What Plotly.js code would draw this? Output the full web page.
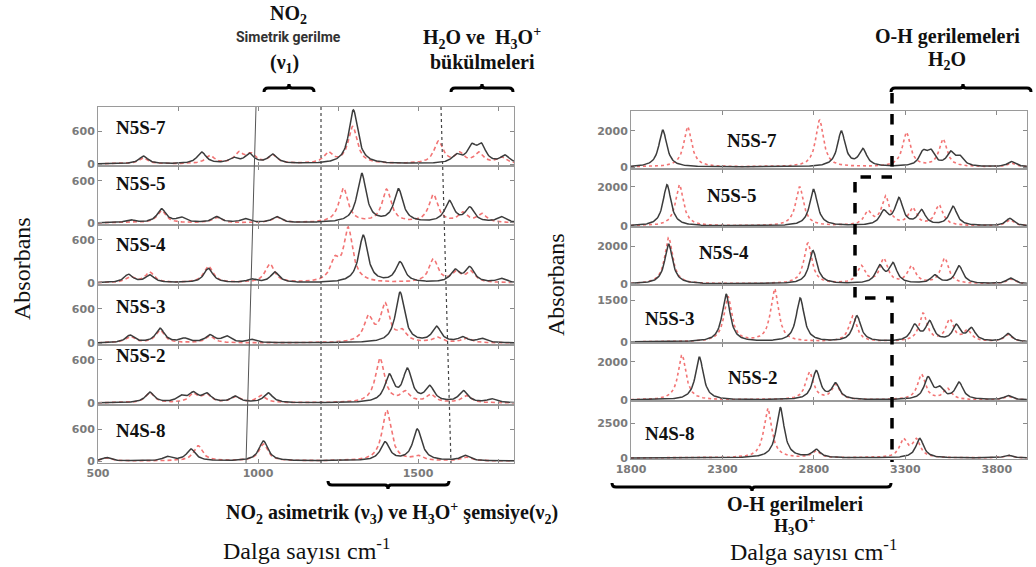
<!DOCTYPE html>
<html><head><meta charset="utf-8">
<script src="https://cdn.plot.ly/plotly-3.0.1.min.js"></script>
<style>html,body{margin:0;padding:0;background:#fff}</style>
</head><body><div id="chart" style="width:1036px;height:567px"></div>
<script>
// ---------- DATA (peak positions cm-1, absorbance) ----------
const sampleNames = ['N5S-7','N5S-5','N5S-4','N5S-3','N5S-2','N4S-8'];

// Left panel (500–1800 cm-1), black solid and red dashed spectra
const L_N5S7_black = [[642,140],[824,210],[923,95],[973,175],[1046,165],[1298,980],[1620,140],[1668,280],[1698,300],[1772,140]];
const L_N5S7_red   = [[642,110],[850,145],[940,190],[978,160],[1046,150],[1220,190],[1296,670],[1564,400],[1630,180],[1690,190],[1760,115]];
const L_N5S5_black = [[600,40],[699,195],[760,70],[871,85],[960,55],[1058,85],[1324,700],[1439,470],[1598,300],[1662,205],[1760,80]];
const L_N5S5_red   = [[699,175],[871,75],[1058,80],[1267,490],[1402,470],[1548,395],[1640,135],[1700,120]];
const L_N5S4_black = [[595,115],[662,105],[845,200],[980,45],[1053,145],[1329,660],[1444,280],[1616,165],[1662,205],[1760,55]];
const L_N5S4_red   = [[600,80],[662,145],[845,230],[1037,260],[1240,270],[1282,740],[1548,325],[1620,140],[1665,145]];
const L_N5S3_black = [[600,130],[694,250],[770,70],[850,130],[902,110],[980,55],[1444,890],[1558,275],[1640,90],[1700,70]];
const L_N5S3_red   = [[600,110],[694,220],[850,120],[1345,430],[1397,660],[1450,180],[1560,90],[1650,80]];
const L_N5S2_black = [[662,145],[760,80],[798,125],[840,115],[929,85],[1032,135],[1410,365],[1467,445],[1537,210],[1642,160],[1730,50]];
const L_N5S2_red   = [[662,140],[798,120],[840,110],[929,80],[1010,100],[1381,620],[1460,140],[1540,110],[1650,100]];
const L_N4S8_black = [[527,65],[717,75],[791,220],[1017,375],[1397,345],[1498,590],[1647,100]];
const L_N4S8_red   = [[527,55],[813,285],[1017,315],[1402,955],[1500,80],[1650,70]];

// Right panel (1800–3965 cm-1), black solid and red dotted spectra
const R_N5S7_black = [[1974,2050],[2950,1950],[3068,930],[3397,720],[3440,740],[3547,720],[3598,480],[3880,290]];
const R_N5S7_red   = [[2110,2240],[2831,2600],[3306,1900],[3506,1530],[3880,200]];
const R_N5S5_black = [[1997,2100],[2798,1850],[3182,680],[3265,1350],[3388,750],[3561,970],[3871,380]];
const R_N5S5_red   = [[2065,2100],[2722,1980],[3096,670],[3192,1460],[3339,870],[3484,1040],[3871,300]];
const R_N5S4_black = [[2006,2100],[2795,1750],[3160,880],[3232,1020],[3461,430],[3594,930],[3875,300]];
const R_N5S4_red   = [[2006,2450],[2767,2140],[3059,900],[3182,1280],[3333,900],[3515,1340],[3875,250]];
const R_N5S3_black = [[2320,1710],[2725,1560],[3035,920],[3351,560],[3433,690],[3579,560],[3661,450],[3862,285]];
const R_N5S3_red   = [[2330,1600],[2585,1880],[3013,920],[3397,1000],[3543,770],[3640,380],[3862,250]];
const R_N5S2_black = [[2174,2240],[2813,1490],[2919,810],[3424,1120],[3488,520],[3594,880],[3862,220]];
const R_N5S2_red   = [[2079,2360],[2776,1440],[2919,770],[3388,1320],[3530,580],[3862,180]];
const R_N4S8_black = [[2616,3620],[2813,565],[3379,1390],[3862,200]];
const R_N4S8_red   = [[2548,3550],[2813,490],[3290,1250],[3360,1250],[3862,180]];

const leftBlack  = [L_N5S7_black,L_N5S5_black,L_N5S4_black,L_N5S3_black,L_N5S2_black,L_N4S8_black];
const leftRed    = [L_N5S7_red,L_N5S5_red,L_N5S4_red,L_N5S3_red,L_N5S2_red,L_N4S8_red];
const rightBlack = [R_N5S7_black,R_N5S5_black,R_N5S4_black,R_N5S3_black,R_N5S2_black,R_N4S8_black];
const rightRed   = [R_N5S7_red,R_N5S5_red,R_N5S4_red,R_N5S3_red,R_N5S2_red,R_N4S8_red];

// y-axis top tick per row
const leftYTicks  = [600,600,600,600,600,600];
const rightYTicks = [2000,2000,2000,1500,2000,2500];
const leftXTicks  = [500,750,1000,1250,1500,1750];
const leftXLabels = ['500','','1000','','1500',''];
const rightXTicks = [1800,2300,2800,3300,3800];

// ---------- LAYOUT GEOMETRY ----------
const W = 1036, H = 567;
const px = x => x / W, py = y => 1 - y / H;
const leftX = [98, 514], rightX = [631, 1027];
const leftRows  = [[107,166],[166,225],[225,285],[285,345],[345,405],[405,463]];
const rightRows = [[111,169],[169,227],[227,285],[285,343],[343,401],[401,459]];
const leftYR  = [[-36,1036],[-29,814],[-28,809],[-35,1023],[-28,809],[-37,1050]];
const rightYR = [[-110,3110],[-50,2900],[-53,3000],[-36,2036],[-50,2974],[-71,4071]];

function lorentz(peaks, lo, hi, step, hw) {
  const xs = [], ys = [];
  for (let x = lo; x <= hi + 1e-9; x += step) {
    let s = 0;
    for (const [c, a] of peaks) s += a * hw * hw / ((x - c) * (x - c) + hw * hw);
    xs.push(x); ys.push(s);
  }
  return {x: xs, y: ys};
}

const traces = [];
const layout = {
  width: W, height: H, margin: {l:0, r:0, t:0, b:0},
  paper_bgcolor: '#fff', plot_bgcolor: '#fff', showlegend: false,
  shapes: [], annotations: []
};
const tickFont = {family: 'DejaVu Sans', size: 11, color: '#7a7a7a', weight: 'bold'};
const axisCommon = {showline: true, linecolor: '#9a9a9a', linewidth: 1, mirror: 'ticks',
  ticks: 'inside', ticklen: 4, tickcolor: '#8a8a8a', showgrid: false, zeroline: false,
  tickfont: tickFont, fixedrange: true};

function addPanel(idx, xdom, rows, yr, black, red, xrange, xt, xl, yt, step, hw, redDash) {
  for (let r = 0; r < 6; r++) {
    const n = idx + r + 1;
    const xa = 'x' + n, ya = 'y' + n;
    const sR = lorentz(red[r], xrange[0], xrange[1], step, hw);
    const sB = lorentz(black[r], xrange[0], xrange[1], step, hw);
    traces.push({x: sR.x, y: sR.y, xaxis: xa, yaxis: ya, type: 'scatter', mode: 'lines',
      line: {color: '#f27474', width: 1.6, dash: redDash}, hoverinfo: 'skip'});
    traces.push({x: sB.x, y: sB.y, xaxis: xa, yaxis: ya, type: 'scatter', mode: 'lines',
      line: {color: '#3c3c3c', width: 1.5}, hoverinfo: 'skip'});
    layout['xaxis' + n] = Object.assign({}, axisCommon, {
      domain: [px(xdom[0]), px(xdom[1])], range: xrange, anchor: ya,
      tickmode: 'array', tickvals: xt, ticktext: xl, showticklabels: r === 5});
    layout['yaxis' + n] = Object.assign({}, axisCommon, {
      domain: [py(rows[r][1]), py(rows[r][0])], range: yr[r], anchor: xa,
      tickmode: 'array', tickvals: [0, yt[r]], ticktext: ['0', String(yt[r])]});
  }
}
addPanel(0, leftX, leftRows, leftYR, leftBlack, leftRed, [500,1800], leftXTicks, leftXLabels, leftYTicks, 2, 17, '4px,3px');
addPanel(6, rightX, rightRows, rightYR, rightBlack, rightRed, [1800,3965], rightXTicks, rightXTicks.map(String), rightYTicks, 4, 26, 'dot');

// ---------- SHAPES ----------
function line(x0,y0,x1,y1,color,width,dash){
  layout.shapes.push({type:'line', xref:'paper', yref:'paper', x0:px(x0), y0:py(y0), x1:px(x1), y1:py(y1),
    line:{color:color, width:width, dash:dash||'solid'}});
}
function brace(x1, x2, xm, y, up) {
  const d = up ? 1 : -1; // up: ends bend down, notch up
  const P = (x, yy) => px(x) + ',' + py(yy);
  const path = 'M' + P(x1, y + 4*d) + ' Q' + P(x1, y) + ' ' + P(x1 + 4, y) +
    ' L' + P(xm - 3, y) + ' Q' + P(xm, y) + ' ' + P(xm, y - 4*d) +
    ' Q' + P(xm, y) + ' ' + P(xm + 3, y) + ' L' + P(x2 - 4, y) +
    ' Q' + P(x2, y) + ' ' + P(x2, y + 4*d);
  layout.shapes.push({type:'path', xref:'paper', yref:'paper', path:path, line:{color:'#000', width:3}});
}
line(256,107,246,463,'#555',1);
line(321,107,321,463,'#444',1.2,'dot');
line(441,107,451,463,'#444',1.2,'dot');
// thick dashed boundary in right panel
layout.shapes.push({type:'path', xref:'paper', yref:'paper',
  path: 'M'+px(892)+','+py(93)+' L'+px(892)+','+py(177)+' L'+px(855)+','+py(177)+' L'+px(855)+','+py(298)+
        ' L'+px(892)+','+py(298)+' L'+px(892)+','+py(462),
  line:{color:'#000', width:3.5, dash:'dash'}});
brace(264, 314, 289, 88, true);
brace(451, 513, 482, 88, true);
brace(891, 1031, 963, 88, true);
brace(328, 449, 388, 485, false);
brace(612, 891, 752, 487, false);

// ---------- TEXT ----------
function ann(text, x, y, font, extra) {
  layout.annotations.push(Object.assign({text:text, x:px(x), y:py(y), xref:'paper', yref:'paper',
    xanchor:'center', yanchor:'middle', showarrow:false, font:font}, extra || {}));
}
const serifB = {family:'Liberation Serif', size:20, color:'#111', weight:'bold'};
const labelF = {family:'Liberation Serif', size:19, color:'#111', weight:'bold'};
const titleF = {family:'Liberation Serif', size:24, color:'#111'};
const lblL = [127,183,245,306,355,430];
for (let r = 0; r < 6; r++) ann(sampleNames[r], 141, lblL[r], labelF);
const lblR = [[752,140],[732,195],[724,252],[670,318],[753,377],[670,433]];
for (let r = 0; r < 6; r++) ann(sampleNames[r], lblR[r][0], lblR[r][1], labelF);

ann('NO<sub>2</sub>', 288, 14, serifB);
ann('Simetrik gerilme', 288, 37, {family:'Roboto', size:14, color:'#333', weight:'bold'});
ann('(ν<sub>1</sub>)', 284, 63, serifB);
ann('H<sub>2</sub>O ve  H<sub>3</sub>O<sup>+</sup>', 482, 38, serifB);
ann('bükülmeleri', 482, 62, serifB);
ann('O-H gerilemeleri', 947, 36, serifB);
ann('H<sub>2</sub>O', 947, 60, serifB);
ann('NO<sub>2</sub> asimetrik (ν<sub>3</sub>) ve H<sub>3</sub>O<sup>+</sup> şemsiye(ν<sub>2</sub>)', 392, 513, serifB);
ann('O-H gerilmeleri', 795, 504, serifB);
ann('H<sub>3</sub>O<sup>+</sup>', 795, 525, {family:'Liberation Serif', size:18, color:'#111', weight:'bold'});
ann('Dalga sayısı cm<sup>-1</sup>', 306, 549, titleF);
ann('Dalga sayısı cm<sup>-1</sup>', 813, 550, titleF);
ann('Absorbans', 22, 269, titleF, {textangle:-90});
ann('Absorbans', 556, 285, titleF, {textangle:-90});

Plotly.newPlot('chart', traces, layout, {staticPlot:true, displayModeBar:false});
</script></body></html>
